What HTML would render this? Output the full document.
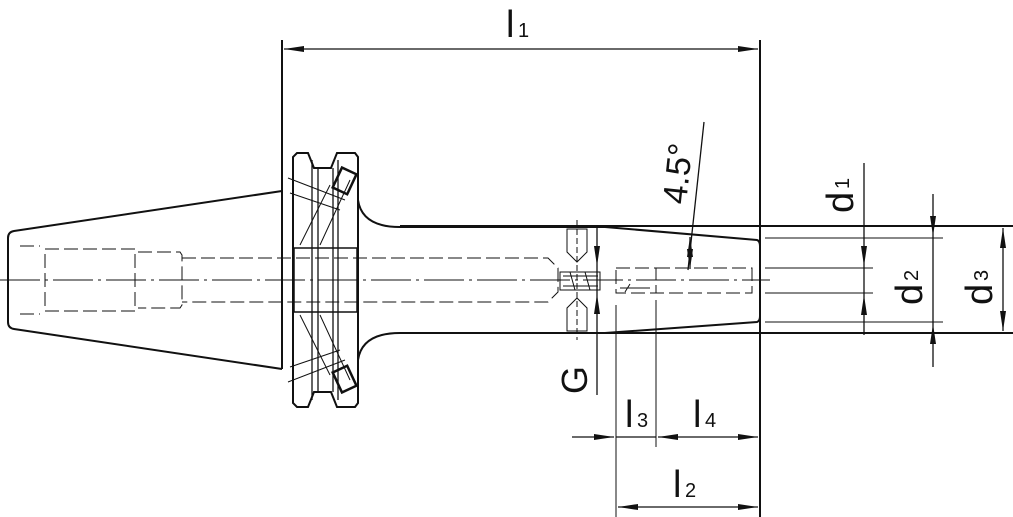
<!DOCTYPE html>
<html><head><meta charset="utf-8"><style>
html,body{margin:0;padding:0;background:#fff;}
svg{display:block;}
text{font-family:"Liberation Sans",sans-serif;fill:#111;}
</style></head><body>
<svg width="1013" height="517" viewBox="0 0 1013 517" xmlns="http://www.w3.org/2000/svg">
<defs>
<marker id="a" viewBox="0 0 20 8" refX="20" refY="4" markerWidth="20" markerHeight="8" markerUnits="userSpaceOnUse" orient="auto-start-reverse"><path d="M0,1 L20,4 L0,7 z" fill="#111"/></marker>
</defs>
<g stroke="#111" fill="none" stroke-width="2">
<!-- left taper -->
<path d="M282,191 L14,231 Q8,232 8,238 L8,322 Q8,328 14,329 L282,369"/>
<line x1="282" y1="40" x2="282" y2="369"/>
<!-- flange -->
<path d="M297,153 L308,153 L314,168 L331,168 L337,153 L355,153 L358,157 L358,403 L355,407 L337,407 L331,392 L314,392 L308,407 L297,407 L293,403 L293,157 z"/>
<line x1="312" y1="160" x2="312" y2="400" stroke-width="1.3"/>
<line x1="318" y1="168" x2="318" y2="392" stroke-width="1.3"/>
<line x1="333" y1="168" x2="333" y2="392" stroke-width="1.3"/>
<line x1="338" y1="160" x2="338" y2="400" stroke-width="1.3"/>
<rect x="294" y="248" width="63" height="64" stroke-width="1.5"/>
<!-- keys -->
<g transform="rotate(25 345 180)"><rect x="337" y="170" width="16" height="22" stroke-width="2.5"/></g>
<g transform="rotate(-25 345 380)"><rect x="337" y="368" width="16" height="22" stroke-width="2.5"/></g>
<!-- neck -->
<path d="M358,200 Q362,227 400,227 L605,227 L757,240 Q760,241 760,246 L760,316 Q760,321 757,322 L605,333 L400,333 Q362,333 358,360"/>
<line x1="400" y1="226" x2="1013" y2="226"/>
<line x1="400" y1="333" x2="1013" y2="333"/>
<line x1="760" y1="40" x2="760" y2="517"/>
</g>
<g stroke="#111" fill="none" stroke-width="1">
<!-- construction lines in flange -->
<path d="M288,178 L345,200 M290,193 L340,210 M300,245 L330,185 M320,245 L350,180 M300,315 L330,375 M320,315 L350,380 M288,382 L345,360 M290,367 L340,350"/>
<!-- bore dashed -->
<g stroke-dasharray="14,5">
<path d="M20,246 L40,246 M20,314 L40,314"/>
<path d="M45,249 L135,249 L135,311 L45,311 Z"/>
<path d="M138,252 L180,252 L182,255 L182,305 L180,308 L138,308"/>
<path d="M182,258 L548,258 L558,268 L558,292 L548,302 L182,302"/>
<rect x="616" y="268" width="40" height="25"/>
<path d="M656,268 L752,268 L752,293 L656,293"/>
</g>
<line x1="0" y1="280" x2="770" y2="280" stroke-dasharray="40,5,3,5"/>
<!-- set screw holes -->
<path d="M567,229 L587,229 L587,252 L577,262 L567,252 Z M567,331 L587,331 L587,308 L577,298 L567,308 Z"/>
<line x1="577" y1="220" x2="577" y2="340" stroke-dasharray="6,3"/>
<rect x="560" y="272" width="40" height="18"/>
<path d="M563,276 L598,276 M563,286 L598,286 M570,272 L575,290 M585,272 L590,290"/>
<path d="M620,288 L650,288 M625,292 L630,284"/>
<!-- extension lines -->
<line x1="765" y1="238" x2="943" y2="238"/>
<line x1="765" y1="322" x2="943" y2="322"/>
<line x1="765" y1="268" x2="873" y2="268"/>
<line x1="765" y1="293" x2="873" y2="293"/>
<line x1="616" y1="305" x2="616" y2="517"/>
<line x1="656" y1="300" x2="656" y2="447"/>
</g>
<g stroke="#111" fill="none" stroke-width="1.3">
<line x1="284" y1="49" x2="758" y2="49" marker-start="url(#a)" marker-end="url(#a)"/>
<line x1="618" y1="507" x2="758" y2="507" marker-start="url(#a)" marker-end="url(#a)"/>
<line x1="572" y1="437" x2="614" y2="437" marker-end="url(#a)"/>
<line x1="616" y1="437" x2="656" y2="437"/>
<line x1="658" y1="437" x2="758" y2="437" marker-start="url(#a)" marker-end="url(#a)"/>
<line x1="864" y1="163" x2="864" y2="266" marker-end="url(#a)"/>
<line x1="864" y1="266" x2="864" y2="295"/>
<line x1="864" y1="335" x2="864" y2="295" marker-end="url(#a)"/>
<line x1="933" y1="194" x2="933" y2="236" marker-end="url(#a)"/>
<line x1="933" y1="236" x2="933" y2="324"/>
<line x1="933" y1="367" x2="933" y2="324" marker-end="url(#a)"/>
<line x1="1003" y1="228" x2="1003" y2="331" marker-start="url(#a)" marker-end="url(#a)"/>
<line x1="597" y1="225" x2="597" y2="266" marker-end="url(#a)"/>
<line x1="597" y1="266" x2="597" y2="294"/>
<line x1="597" y1="395" x2="597" y2="294" marker-end="url(#a)"/>
<line x1="704" y1="122" x2="688" y2="270"/>
<line x1="690" y1="256" x2="690" y2="237" marker-end="url(#a)"/>
<line x1="690" y1="250" x2="690" y2="269" marker-end="url(#a)"/>
</g>
<!-- labels -->
<text x="506" y="37" font-size="38" transform="scale(1,1)">l</text><text x="518" y="37" font-size="20">1</text>
<text x="625" y="427" font-size="38">l</text><text x="637" y="427" font-size="20">3</text>
<text x="693" y="427" font-size="38">l</text><text x="705" y="427" font-size="20">4</text>
<text x="673" y="497" font-size="38">l</text><text x="685" y="497" font-size="20">2</text>
<g transform="translate(853,213) rotate(-90)"><text x="0" y="0" font-size="38">d</text><text x="24" y="-4" font-size="20">1</text></g>
<g transform="translate(922,305) rotate(-90)"><text x="0" y="0" font-size="38">d</text><text x="24" y="-4" font-size="20">2</text></g>
<g transform="translate(992,305) rotate(-90)"><text x="0" y="0" font-size="38">d</text><text x="24" y="-4" font-size="20">3</text></g>
<g transform="translate(587,394) rotate(-90)"><text x="0" y="0" font-size="36">G</text></g>
<g transform="translate(686,205) rotate(-84)"><text x="0" y="0" font-size="34">4.5°</text></g>
</svg>
</body></html>
